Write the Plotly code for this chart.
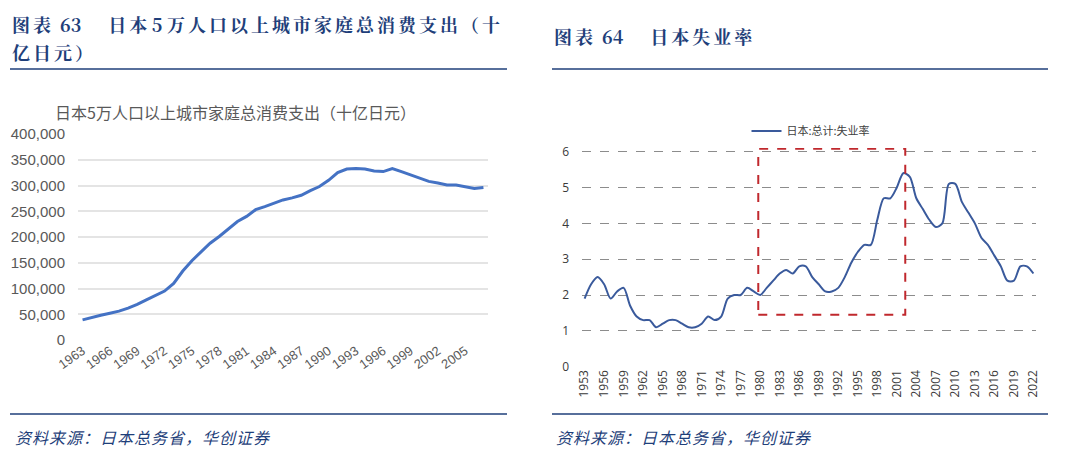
import plotly.graph_objects as go

# left chart: household consumption, cities with 50k+ population (bn yen)
spend_years = list(range(1963, 2008))
spend_values = [
    39000, 44000, 48000, 52000, 56000, 62000, 69000, 78000, 86000, 95000,
    110000, 134000, 154000, 172000, 188000, 201000, 215000, 230000, 240000, 253000,
    259000, 266000, 272000, 276000, 281000, 290000, 298000, 310000, 325000, 332000,
    333000, 332000, 328000, 327000, 333000, 327000, 321000, 315000, 308000, 305000,
    301000, 301000, 298000, 294000, 296000,
]
spend_ticks = list(range(1963, 2006, 3))

# right chart: Japan unemployment rate (%)
jobless_years = list(range(1953, 2023))
jobless_values = [
    1.9, 2.3, 2.5, 2.3, 1.9, 2.1, 2.2, 1.7, 1.4, 1.3,
    1.3, 1.1, 1.2, 1.3, 1.3, 1.2, 1.1, 1.1, 1.2, 1.4,
    1.3, 1.4, 1.9, 2.0, 2.0, 2.2, 2.1, 2.0, 2.2, 2.4,
    2.6, 2.7, 2.6, 2.8, 2.8, 2.5, 2.3, 2.1, 2.1, 2.2,
    2.5, 2.9, 3.2, 3.4, 3.4, 4.1, 4.7, 4.7, 5.0, 5.4,
    5.3, 4.7, 4.4, 4.1, 3.9, 4.0, 5.1, 5.1, 4.6, 4.3,
    4.0, 3.6, 3.4, 3.1, 2.8, 2.4, 2.4, 2.8, 2.8, 2.6,
]
jobless_ticks = list(range(1953, 2023, 3))
highlight_years = (1979.7, 2002.3)
highlight_rates = (1.45, 6.08)

NAVY = "#1F3F7A"
GRAY = "#595959"
CJK = "Noto Sans CJK SC"

W, H = 1080, 455
PAD = 8  # page body margin, the figure sits 8px in from the window corner


def px(x):
    return (x - PAD) / W


def py(y):
    return 1 - (y - PAD) / H


def spaced(s, gap="\u2006"):
    return gap.join(s)


fig = go.Figure()
fig.add_trace(
    go.Scatter(
        x=spend_years,
        y=spend_values,
        mode="lines",
        line={"color": "#4472C4", "width": 3},
        xaxis="x",
        yaxis="y",
        showlegend=False,
    )
)
fig.add_trace(
    go.Scatter(
        x=jobless_years,
        y=jobless_values,
        mode="lines",
        line={"color": "#3A5A9C", "width": 2, "shape": "spline", "smoothing": 0.8},
        xaxis="x2",
        yaxis="y2",
        name="日本:总计:失业率",
    )
)

fig.update_layout(
    width=W,
    height=H,
    margin={"l": 0, "r": 0, "t": 0, "b": 0},
    paper_bgcolor="white",
    plot_bgcolor="white",
    font={"family": CJK, "color": GRAY},
    xaxis={
        "domain": [px(78), px(488)],
        "range": [1962.5, 2007.5],
        "tickvals": spend_ticks,
        "tickangle": -35,
        "tickfont": {"size": 13, "color": GRAY, "family": "Liberation Sans"},
        "showgrid": False,
        "zeroline": False,
        "showline": False,
        "automargin": False,
        "anchor": "y",
    },
    yaxis={
        "domain": [py(340), py(134)],
        "range": [0, 400000],
        "tickvals": list(range(0, 400001, 50000)),
        "tickformat": ",",
        "tickfont": {"size": 15, "color": GRAY, "family": "Liberation Sans"},
        "gridcolor": "#E4E4E4",
        "gridwidth": 1.5,
        "zeroline": False,
        "ticks": "",
        "ticklabelstandoff": 12,
        "automargin": False,
        "anchor": "x",
    },
    xaxis2={
        "domain": [px(582), px(1036)],
        "range": [1952.6, 2022.4],
        "tickvals": jobless_ticks,
        "tickangle": -90,
        "tickfont": {"size": 12, "color": "#3A3A3A", "family": "Open Sans"},
        "showgrid": False,
        "zeroline": False,
        "showline": False,
        "automargin": False,
        "anchor": "y2",
    },
    yaxis2={
        "domain": [py(366.7), py(148.1)],
        "range": [0, 6.1],
        "tickvals": list(range(0, 7)),
        "tickfont": {"size": 12, "color": "#3A3A3A", "family": "Open Sans"},
        "gridcolor": "#8C8C8C",
        "gridwidth": 1.3,
        "griddash": "dash",
        "zeroline": False,
        "ticks": "",
        "ticklabelstandoff": 12,
        "automargin": False,
        "anchor": "x2",
    },
    legend={
        "x": px(811),
        "y": py(131),
        "xanchor": "center",
        "yanchor": "middle",
        "font": {"size": 11, "color": "#404040", "family": CJK},
        "bgcolor": "rgba(0,0,0,0)",
        "itemwidth": 30,
    },
    showlegend=True,
)

# red dashed highlight box on the unemployment chart
fig.add_shape(
    type="rect",
    xref="x2",
    yref="y2",
    x0=highlight_years[0],
    x1=highlight_years[1],
    y0=highlight_rates[0],
    y1=highlight_rates[1],
    line={"color": "#C0282D", "width": 2, "dash": "dash"},
)

# header and footer rules
for x0, x1 in [(10, 507), (552, 1048)]:
    for yy in [69, 414]:
        fig.add_shape(
            type="line",
            xref="paper",
            yref="paper",
            x0=px(x0),
            x1=px(x1),
            y0=py(yy),
            y1=py(yy),
            line={"color": NAVY, "width": 1.6},
        )

header_font = {"size": 18, "color": NAVY, "family": "Noto Serif CJK SC, " + CJK}
source = spaced("资料来源：日本总务省，华创证券", "\u200a")
texts = [
    (10, 24, "<b>" + spaced("图表") + "  63　  " + spaced("日本") + " 5 " + spaced("万人口以上城市家庭总消费支出（十") + "</b>", header_font),
    (10, 52, "<b>" + spaced("亿日元）") + "</b>", header_font),
    (552, 36, "<b>" + spaced("图表") + "  64　  " + spaced("日本失业率") + "</b>", header_font),
    (53, 112, "日本5万人口以上城市家庭总消费支出（十亿日元）", {"size": 16, "color": GRAY, "family": CJK}),
    (13, 437, "<i>" + source + "</i>", {"size": 16, "color": NAVY, "family": CJK}),
    (554, 437, "<i>" + source + "</i>", {"size": 16, "color": NAVY, "family": CJK}),
]
for x, y, t, f in texts:
    fig.add_annotation(
        x=px(x),
        y=py(y),
        xref="paper",
        yref="paper",
        text=t,
        showarrow=False,
        xanchor="left",
        yanchor="middle",
        font=f,
    )

fig.write_html("out.html")
